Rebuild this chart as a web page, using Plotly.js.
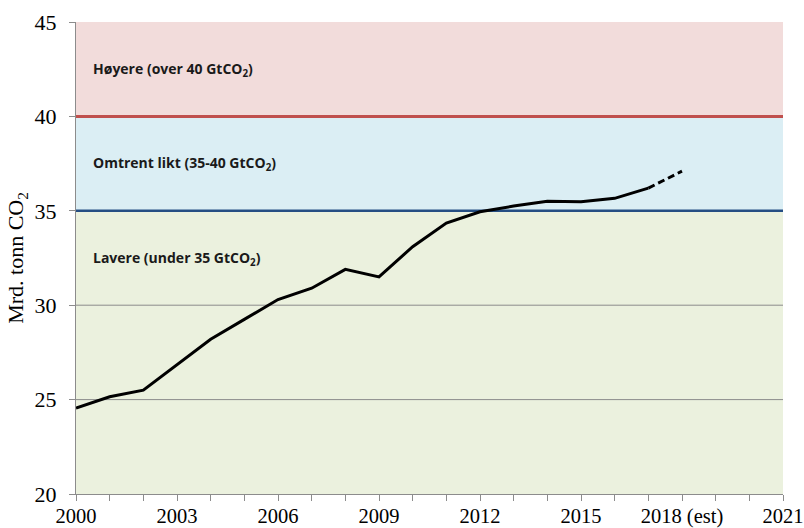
<!DOCTYPE html>
<html><head><meta charset="utf-8">
<script src="https://cdn.plot.ly/plotly-3.0.1.min.js"></script>
<style>html,body{margin:0;padding:0;background:#fff}#c{width:804px;height:528px}</style>
</head><body><div id="c"></div>
<script>
const years = [2000,2001,2002,2003,2004,2005,2006,2007,2008,2009,2010,2011,2012,2013,2014,2015,2016,2017];
const emissions = [24.55,25.15,25.5,26.85,28.2,29.25,30.3,30.9,31.9,31.5,33.1,34.35,34.95,35.25,35.5,35.48,35.66,36.2];
const estYears = [2017,2018];
const estValues = [36.2,37.1];
const tickYears = [2000,2003,2006,2009,2012,2015,2018,2021];
const tickLabels = ['2000','2003','2006','2009','2012','2015','2018 (est)','2021'];
const bands = [
  {lo:40, hi:45, fill:'#F2DCDB', label:'Høyere (over 40 GtCO<sub>2</sub>)'},
  {lo:35, hi:40, fill:'#DBEEF4', label:'Omtrent likt (35-40 GtCO<sub>2</sub>)'},
  {lo:20, hi:35, fill:'#EBF1DE', label:'Lavere (under 35 GtCO<sub>2</sub>)'}
];
const labelY = [42.5, 37.5, 32.5];

const shapes = [];
bands.forEach(b => shapes.push({type:'rect', xref:'paper', yref:'y', x0:0, x1:1, y0:b.lo, y1:b.hi, fillcolor:b.fill, line:{width:0}, layer:'below'}));
[25,30].forEach(v => shapes.push({type:'line', xref:'paper', yref:'y', x0:0, x1:1, y0:v, y1:v, line:{color:'#8c8c8c', width:1}, layer:'below'}));
shapes.push({type:'line', xref:'paper', yref:'y', x0:0, x1:1, y0:40, y1:40, line:{color:'#C0504D', width:3}, layer:'below'});
shapes.push({type:'line', xref:'paper', yref:'y', x0:0, x1:1, y0:35, y1:35, line:{color:'#254E83', width:2.5}, layer:'below'});

const annotations = bands.map((b,i) => ({
  xref:'paper', yref:'y', x:0.021, y:labelY[i], xanchor:'left', yanchor:'middle',
  text:'<b>'+b.label+'</b>', showarrow:false,
  font:{family:'Open Sans, Noto Sans, sans-serif', size:14, color:'#1a1a1a'}
}));

const traces = [
  {x:years, y:emissions, type:'scatter', mode:'lines', line:{color:'#000', width:3}, hoverinfo:'skip'},
  {x:estYears, y:estValues, type:'scatter', mode:'lines', line:{color:'#000', width:3, dash:'7px,4px'}, hoverinfo:'skip'}
];

const tf = {family:'Liberation Serif, Times New Roman, serif', size:22, color:'#000'};
const xf = {family:'Liberation Serif, Times New Roman, serif', size:20.5, color:'#000'};
const layout = {
  width:804, height:528,
  margin:{l:76, r:21, t:22, b:34},
  paper_bgcolor:'#fff', plot_bgcolor:'rgba(0,0,0,0)',
  showlegend:false,
  font:tf,
  xaxis:{range:[2000,2021], tickvals:tickYears, ticktext:tickLabels, showgrid:false, zeroline:false,
    showline:true, linecolor:'#8c8c8c', linewidth:1, ticks:'outside', ticklen:6, tickcolor:'#8c8c8c',
    minor:{dtick:1, tick0:2000, ticks:'outside', ticklen:6, tickcolor:'#8c8c8c', showgrid:false},
    tickfont:xf, ticklabelstandoff:-3, ticklabeloverflow:'allow', fixedrange:true},
  yaxis:{range:[20,45], dtick:5, showgrid:false, zeroline:false, showline:true, linecolor:'#8c8c8c', linewidth:1,
    ticks:'outside', ticklen:6, tickcolor:'#8c8c8c', ticklabelstandoff:8,
    tickfont:tf,
    title:{text:'Mrd. tonn CO<sub>2</sub>', font:tf, standoff:4},
    fixedrange:true},
  shapes:shapes, annotations:annotations
};
Plotly.newPlot('c', traces, layout, {staticPlot:true, displayModeBar:false});
</script></body></html>
